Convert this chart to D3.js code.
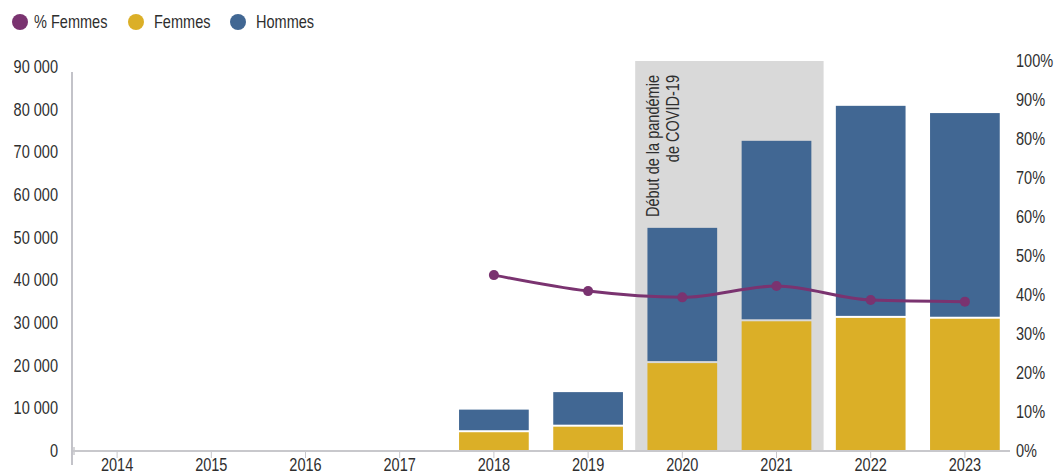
<!DOCTYPE html>
<html>
<head>
<meta charset="utf-8">
<script src="https://cdn.jsdelivr.net/npm/d3@7"></script>
<style>
  body { margin: 0; background: #fff; }
  text { font-family: "Liberation Sans", Arial, sans-serif; fill: #2e2e2e; font-size: 17.5px; }
</style>
</head>
<body>
<div id="chart"></div>
<script>
// Données
var annees = [2014, 2015, 2016, 2017, 2018, 2019, 2020, 2021, 2022, 2023];
var femmes = [null, null, null, null, 4400, 5700, 20600, 30400, 31200, 31000];
var hommes = [null, null, null, null, 5300, 8100, 31700, 42300, 49700, 48200];
var pctFemmes = [null, null, null, null, 45.1, 41.0, 39.4, 42.3, 38.7, 38.3];

var ticksGauche = [0, 10000, 20000, 30000, 40000, 50000, 60000, 70000, 80000, 90000];
var ticksDroite = [0, 10, 20, 30, 40, 50, 60, 70, 80, 90, 100];
var legende = [
    {label: "% Femmes", color: "#7a3370"},
    {label: "Femmes", color: "#dbaf27"},
    {label: "Hommes", color: "#416793"}
];
var periodeCovid = [2020, 2021];
var annotation = ["Début de la pandémie", "de COVID-19"];

var width = 1056, height = 473;
var narrow = 0.83; // police condensée simulée

var svg = d3.select("#chart")
    .append("svg")
    .attr("width", width)
    .attr("height", height);

// texte condensé : on écrase horizontalement
function texte(parent, px, py, str, anchor) {
    return parent.append("text")
        .attr("transform", "translate(" + px + "," + py + ") scale(" + narrow + ",1)")
        .attr("text-anchor", anchor || "start")
        .attr("dy", "0.35em")
        .text(str);
}

// Échelles
var x = d3.scaleBand().domain(annees).range([70, 1012]).paddingInner(0.26).paddingOuter(0.13);
var y = d3.scaleLinear().domain([0, 90000]).range([451, 67]);
var yPct = d3.scaleLinear().domain([0, 100]).range([451, 61]);

var fr = d3.formatLocale({decimal: ",", thousands: " ", grouping: [3], currency: ["", " €"]});
var fmt = fr.format(",d");

// Zone COVID
var gap = (x.step() - x.bandwidth()) / 2;
svg.append("rect")
    .attr("x", x(periodeCovid[0]) - gap)
    .attr("y", yPct(100))
    .attr("width", x(periodeCovid[1]) + x.bandwidth() + gap - (x(periodeCovid[0]) - gap))
    .attr("height", yPct(0) - yPct(100))
    .attr("fill", "#d9d9d9");

var annot = svg.append("text")
    .attr("transform", "translate(" + (x(periodeCovid[0]) + 12) + "," + 75 + ") rotate(-90) scale(" + narrow + ",1)")
    .attr("text-anchor", "end");
annot.selectAll("tspan")
    .data(annotation)
    .enter()
    .append("tspan")
    .attr("x", 0)
    .attr("dy", function (d, i) { return i === 0 ? 0 : 20; })
    .text(function (d) { return d; });

// Barres
var rows = annees.map(function (a, i) {
    return {annee: a, f: femmes[i], h: hommes[i], p: pctFemmes[i]};
}).filter(function (d) { return d.f != null; });

svg.append("g").selectAll("rect")
    .data(rows)
    .enter()
    .append("rect")
    .attr("x", function (d) { return x(d.annee); })
    .attr("y", function (d) { return y(d.f + d.h); })
    .attr("width", x.bandwidth())
    .attr("height", function (d) { return y(d.f) - y(d.f + d.h) - 2; })
    .attr("fill", legende[2].color);

svg.append("g").selectAll("rect")
    .data(rows)
    .enter()
    .append("rect")
    .attr("x", function (d) { return x(d.annee); })
    .attr("y", function (d) { return y(d.f); })
    .attr("width", x.bandwidth())
    .attr("height", function (d) { return y(0) - y(d.f); })
    .attr("fill", legende[1].color);

// Axe X
svg.append("line")
    .attr("x1", 73).attr("x2", 1010)
    .attr("y1", y(0)).attr("y2", y(0))
    .attr("stroke", "#c8c8cc").attr("stroke-width", 2);
svg.append("line")
    .attr("x1", 74).attr("x2", 74)
    .attr("y1", y(0) - 4).attr("y2", y(0) + 4)
    .attr("stroke", "#c8c8cc").attr("stroke-width", 1.5);

var gx = svg.append("g");
annees.forEach(function (a) {
    var cx = x(a) + x.bandwidth() / 2;
    gx.append("line")
        .attr("x1", cx).attr("x2", cx)
        .attr("y1", y(0)).attr("y2", y(0) + 7)
        .attr("stroke", "#c8c8cc").attr("stroke-width", 1);
    texte(gx, cx, 465, a, "middle");
});

// Axe gauche
svg.append("line")
    .attr("x1", 72).attr("x2", 72)
    .attr("y1", 72).attr("y2", 465)
    .attr("stroke", "#c3c3c9").attr("stroke-width", 2);
var gy = svg.append("g");
ticksGauche.forEach(function (t) {
    texte(gy, 58, y(t), fmt(t), "end");
});

// Axe droit
var gy2 = svg.append("g");
ticksDroite.forEach(function (t) {
    texte(gy2, 1016, yPct(t), t + "%", "start");
});

// Ligne % femmes
var line = d3.line()
    .x(function (d) { return x(d.annee) + x.bandwidth() / 2; })
    .y(function (d) { return yPct(d.p); })
    .curve(d3.curveMonotoneX);
svg.append("path")
    .datum(rows)
    .attr("d", line)
    .attr("fill", "none")
    .attr("stroke", legende[0].color)
    .attr("stroke-width", 3);
svg.append("g").selectAll("circle")
    .data(rows)
    .enter()
    .append("circle")
    .attr("cx", function (d) { return x(d.annee) + x.bandwidth() / 2; })
    .attr("cy", function (d) { return yPct(d.p); })
    .attr("r", 5)
    .attr("fill", legende[0].color);

// Légende
var legX = [20, 136, 238];
var gl = svg.append("g");
legende.forEach(function (d, i) {
    gl.append("circle")
        .attr("cx", legX[i]).attr("cy", 22)
        .attr("r", 8).attr("fill", d.color);
    texte(gl, legX[i] + (i === 0 ? 14 : 18), 22, d.label, "start");
});
</script>
</body>
</html>
